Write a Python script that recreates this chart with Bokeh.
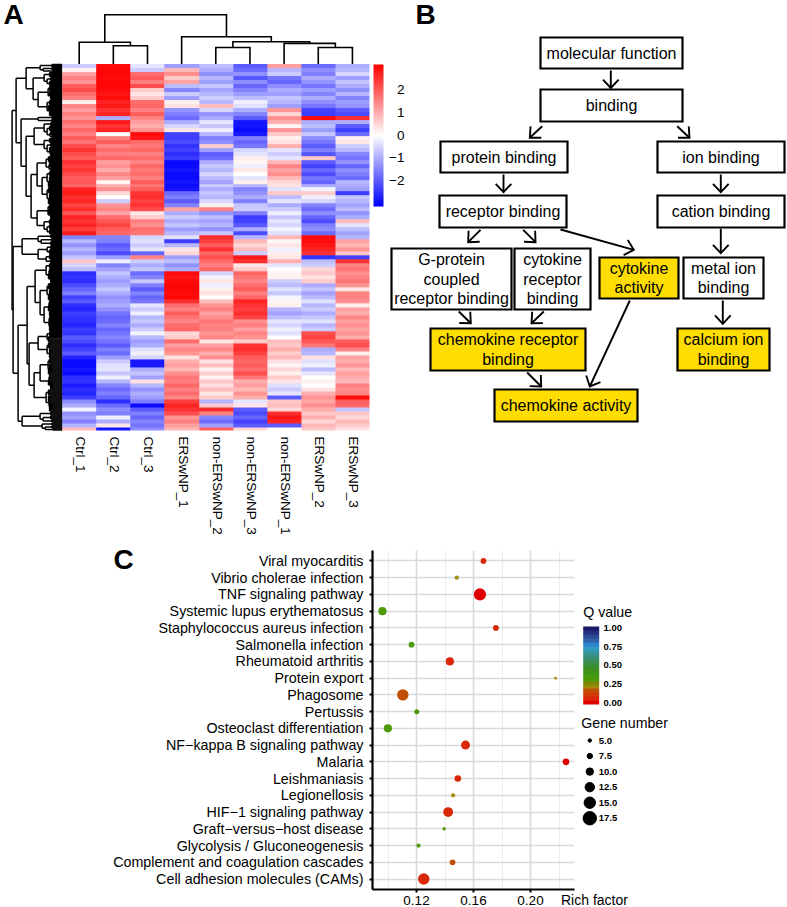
import numpy as np
from bokeh.plotting import figure
from bokeh.layouts import column, row
from bokeh.embed import file_html
from bokeh.resources import INLINE
from bokeh.core.properties import value
from bokeh.models import (ColorBar, FactorRange, FixedTicker, LinearColorMapper,
                          Range1d, ColumnDataSource)

FONT = "Liberation Sans"
W, H = 787, 907
SPLIT = 535

# ---------- A: heat map (z-scores, top row first) ----------
col_labels = ["Ctrl_1", "Ctrl_2", "Ctrl_3", "ERSwNP_1", "non-ERSwNP_2", "non-ERSwNP_3",
              "non-ERSwNP_1", "ERSwNP_2", "ERSwNP_3"]
ctrl_1 = [-0.6,0.2,1.2,1.6,1.3,2.0,2.2,1.8,1.6,0.2, 1.5,1.2,1.6,1.3,1.8,1.5,1.9,1.6,2.0,1.7,
          2.2,2.5,2.2,2.0,2.6,2.3,2.5,2.2,2.0,2.1, 1.9,2.7,2.8,2.6,2.7,2.3,2.6,2.1,2.7,2.5,
          2.7,2.4,2.8,-1.5,-0.9,-1.3,-0.9,-1.2,-0.7,0.7, -0.5,-0.8,-2.6,-2.5,-2.6,-2.2,-1.9,-1.6,-2.3,-2.0,
          -2.6,-2.7,-2.4,-2.5,-2.6,-2.7,-2.4,-2.5,-2.0,-2.2, -2.6,-2.3,-2.0,-2.7,-3.0,-3.0,-2.9,-3.0,-2.6,-2.5,
          -2.8,-2.6,-2.7,-2.4,-1.4,-1.0,-0.1,-1.3,-1.1,-1.6, -0.9,0.9]
ctrl_2 = [3.0,3.1,3.1,3.0,3.1,3.1,3.0,2.9,3.0,2.7, 2.8,2.5,2.7,-1.0,2.8,2.5,2.7,0.0,1.6,2.0,
          1.5,1.8,1.6,1.9,1.2,1.4,1.0,1.5,1.2,0.1, 1.0,1.4,0.5,0.0,-0.6,1.3,1.5,1.1,1.8,2.1,
          2.3,2.0,1.9,-1.5,-1.6,-2.0,-1.8,-2.2,-1.2,-0.2, -1.5,-1.1,-0.7,-1.0,-1.2,-1.0,-0.7,-1.0,-1.3,-1.2,
          -1.0,-1.3,-1.7,-1.9,-1.8,-1.5,-1.9,-1.7,-1.5,-1.7, -2.0,-1.6,-1.8,-1.2,-0.6,-0.4,-0.3,-0.7,-0.2,-0.9,
          -1.5,-1.8,-1.6,-1.9,-2.6,-1.8,-1.4,-1.6,-0.2,-1.0, 0.3,-2.9]
ctrl_3 = [-0.3,-0.6,1.8,2.0,1.6,2.2,0.6,0.3,0.7,1.8, 1.9,1.6,2.0,1.5,1.2,1.0,1.3,3.0,2.9,1.8,
          1.7,1.9,1.6,1.8,1.5,1.9,1.7,1.8,1.6,2.0, 1.7,2.0,2.5,2.6,2.3,2.5,2.2,0.3,0.6,1.6,
          1.4,1.8,1.7,-0.5,-0.4,-0.6,-0.3,-1.9,1.5,-0.6, -1.0,-0.7,-1.8,-1.5,-0.7,-1.6,-2.0,-1.5,-1.9,-1.7,
          -0.3,-0.6,-0.2,-0.9,-0.7,-1.0,-0.6,-0.1,-0.9,-1.2, -1.0,-0.4,-0.2,-0.5,-2.8,-2.8,-1.0,-0.7,-1.1,0.4,
          -0.9,-1.3,-1.0,-1.2,-1.6,-3.0,-2.0,-1.6,-1.9,-1.5, -1.7,-1.4]
ers_1 = [-1.2,0.9,1.4,0.6,1.1,-0.8,-1.5,-0.6,-1.2,0.2, 0.4,-1.3,-1.6,-1.8,-1.0,-0.5,0.3,-2.3,-2.4,-2.2,
         -2.5,-2.3,-2.6,-2.4,-3.0,-3.0,-2.9,-3.0,-3.0,-2.9, -3.0,-2.9,-1.8,-1.6,-2.0,-1.5,1.1,-1.0,-0.6,-1.0,
         -0.7,-1.2,-0.9,-0.4,-2.4,-0.9,0.3,0.5,-1.2,-0.8, -1.3,-1.0,3.0,2.9,3.0,3.1,3.1,3.0,3.1,2.6,
         1.8,1.5,2.0,1.7,1.5,1.8,1.9,0.5,0.6,1.8, 1.2,1.5,1.3,0.4,1.0,1.2,0.9,1.4,1.7,1.6,
         1.9,1.6,1.8,1.5,2.4,2.7,2.5,2.2,1.3,1.6, 1.2,0.9]
non_2 = [-0.8,-1.0,-1.4,-0.9,-1.2,-0.7,-1.1,-0.9,-0.6,-0.9, 0.8,-0.5,-1.3,-1.0,-0.3,-0.7,-0.2,-0.9,-1.6,-1.4,
         0.6,-1.2,-2.0,-1.8,-1.0,-0.7,-0.9,-0.5,-0.8,-1.1, -0.6,-1.0,-0.7,-0.9,-0.5,0.2,1.6,-1.3,-0.8,-1.1,
         -0.9,-1.3,-0.7,2.6,2.4,2.0,2.5,1.9,2.2,1.8, 1.6,1.9,-0.5,-0.1,0.3,-0.2,0.2,0.4,0.0,0.8,
         1.3,1.6,1.2,1.4,1.7,1.5,1.6,1.3,1.5,0.3, 1.2,1.5,1.0,1.4,0.4,0.8,0.2,0.6,0.1,0.7,
         0.4,0.8,0.3,0.6,-0.9,0.6,2.6,1.5,-1.5,-1.8, -1.2,2.0]
non_3 = [-2.0,-1.8,-1.3,-2.1,-1.4,-1.9,-1.5,-1.2,-0.8,-0.2, -0.4,-1.0,-1.5,-2.0,-2.9,-2.9,-3.0,-2.8,-1.6,-1.9,
         -1.7,-0.5,-0.3,0.2,0.1,-0.2,0.3,0.0,-0.3,0.2, -0.9,-1.5,-1.3,-1.0,-1.6,-0.7,-0.6,-1.6,-2.4,-2.3,
         -2.0,-1.0,-2.2,-0.9,0.9,0.5,0.8,-0.6,2.8,2.6, 0.3,0.6,1.9,1.7,1.5,1.8,2.0,1.6,1.9,2.7,
         2.5,2.4,2.6,2.3,1.4,1.6,1.2,1.5,1.3,0.6, 2.5,2.6,2.3,2.0,1.9,2.0,1.8,2.2,1.7,1.0,
         1.2,0.9,1.3,1.0,-0.3,0.3,-2.0,-2.2,-1.9,-2.3, -2.0,0.5]
non_1 = [1.2,-0.9,-0.6,-1.7,-1.9,-1.4,-1.0,-1.2,-0.7,-0.9, -1.2,1.3,0.5,1.4,1.0,0.1,1.3,0.6,0.2,0.4,
         1.0,-0.3,-0.6,-0.3,0.9,1.5,1.1,1.4,0.9,0.5, 0.4,-0.4,0.7,-0.8,-0.3,-1.0,-0.6,-0.2,-0.7,-0.3,
         -0.5,-0.1,-0.4,0.9,0.1,0.3,-0.2,0.2,0.3,1.0, -0.3,0.0,0.1,0.2,-0.6,-0.8,-0.4,-0.7,-0.1,0.1,
         0.2,-0.9,-1.1,-0.8,-0.3,-0.5,-0.2,-0.4,0.0,0.8, 0.7,1.0,0.6,0.9,0.4,0.1,0.5,0.2,0.6,0.3,
         -0.4,-0.6,-0.3,-2.0,0.7,0.8,0.5,2.6,2.9,2.7, -2.0,0.0]
ers_2 = [-1.8,-1.4,-1.6,-1.0,-1.3,-1.7,-1.2,-1.5,-1.0,-1.4, -1.7,-2.3,-2.4,3.0,-1.0,-0.8,-1.2,-0.7,-1.4,-1.7,
         -2.0,-1.6,-2.1,0.7,-2.0,-2.3,-1.8,-2.2,-1.7,-1.9, -1.0,-0.1,0.6,-0.2,-0.5,-1.5,-1.8,-1.4,-1.9,-2.2,
         -1.6,-1.4,-1.8,3.0,3.0,2.9,2.7,2.5,-2.5,-0.8, -0.6,0.5,0.7,0.4,0.6,-1.0,-0.7,-1.1,-0.8,-0.4,
         -0.9,-0.6,-1.0,-0.7,-0.4,-0.9,-0.6,2.2,2.3,2.1, 1.7,-1.0,-0.9,0.4,-0.4,-0.2,-0.8,-0.3,0.0,0.2,
         0.0,0.4,1.0,1.3,1.1,1.4,1.0,0.7,1.0,0.5, 0.9,0.7]
ers_3 = [-1.0,-0.9,-0.5,-1.2,-0.7,-1.0,-1.4,-0.9,-1.5,-1.2, -1.3,-2.0,-2.2,2.6,-1.0,-2.0,-2.4,-1.8,0.2,0.3,
         -0.6,-0.9,-1.5,-1.7,-1.3,-1.9,-1.4,-1.6,-1.8,-0.9, -1.0,-1.2,-2.4,-0.7,-0.9,-1.1,-0.8,-1.3,-1.0,0.8,
         -0.3,-0.8,-1.1,-0.9,1.2,0.9,1.3,0.7,-2.3,2.5, 1.5,1.7,1.4,1.6,1.7,1.3,0.3,1.5,1.6,1.4,
         0.2,1.2,1.0,1.5,1.2,1.4,1.1,1.3,1.0,2.0, 2.2,1.6,0.2,1.1,1.0,1.3,0.9,1.2,1.0,0.9,
         1.6,1.4,1.5,3.0,2.0,1.9,-0.7,0.7,0.5,0.9, 0.6,0.4]
heat_ticks = [2, 1, 0, -1, -2]
heat_tick_labels = ["2", "1", "0", "\u22121", "\u22122"]

# column dendrogram: (child, child, height); ids above 8 are earlier merges
col_merges = [(1, 2, 18.3), (0, 9, 21.7), (4, 5, 16.5), (7, 8, 16.5), (6, 12, 20.6),
              (11, 13, 22.3), (3, 14, 27.3), (10, 15, 49.3)]

# row dendrogram: (height, child, child, ...); an int is a tight run of that many leaves
def L(h, *kids):
    return (h, kids[0], L(h - 3, *kids[1:])) if len(kids) > 2 else (h, kids[0], kids[1])

row_tree = (50,
    (46,
        (36, L(22,3,3,2), (29, L(18,5,4,5), (24, L(14,5,5,4), L(15,5,6,5)))),
        (41, L(24,3,3),
            (36, (28, L(18,4,5,4,3), L(18,5,4,5,4)),
                 (31, (25, L(16,6,5,4), (20, L(15,5,5,6), L(15,6,5,6))),
                      (25, L(14,5,6,4), L(18,5,5,5)))))),
    (49,
        (40, L(24,4,3,4), (24, L(15,4,5), L(16,5,4))),
        (44,
            (35,
                (27, L(16,5,5,6,4), (22, L(15,6,5,6), (18, L(13,5,6,5), L(13,5,5,5)))),
                (33, (24, L(15,5,6), L(15,6,5,5)),
                     (28, (22, L(14,5,5,6), L(13,5,6,4)), L(16,6,6,5,5)))),
            (40, L(22,4,4,3), L(20,3,3,2)))))

# ---------- B: GO graph ----------
box_labels = [["molecular function"], ["binding"], ["protein binding"], ["ion binding"],
              ["receptor binding"], ["cation binding"],
              ["G-protein", "coupled", "receptor binding"], ["cytokine", "receptor", "binding"],
              ["cytokine", "activity"], ["metal ion", "binding"],
              ["chemokine receptor", "binding"], ["calcium ion", "binding"], ["chemokine activity"]]
box_left   = [540, 540, 440, 657, 439, 657, 391, 514, 599, 683, 430, 677, 494]
box_right  = [682, 682, 567, 784, 566, 784, 511, 590, 678, 763, 585, 769, 637]
box_top    = [37,  89,  141, 141, 195, 195, 248, 248, 257, 257, 328, 328, 389]
box_bottom = [68,  121, 172, 172, 227, 227, 309, 309, 298, 298, 370, 370, 421]
box_hit    = [0, 0, 0, 0, 0, 0, 0, 0, 1, 0, 1, 1, 1]
arrow_x0 = [610.3, 541.7, 676.7, 503.0, 720.3, 480.0, 522.7, 560.0, 720.3, 458.3, 543.3, 722.3, 629.3, 526.7]
arrow_y0 = [70.0, 125.7, 125.7, 174.0, 174.0, 229.3, 229.3, 229.0, 228.3, 311.0, 311.0, 300.0, 300.0, 372.0]
arrow_x1 = [610.3, 529.3, 689.0, 503.0, 720.3, 467.7, 535.0, 633.3, 720.3, 470.3, 531.0, 722.3, 589.3, 540.7]
arrow_y1 = [87.5, 137.3, 137.3, 191.7, 191.7, 241.7, 241.7, 249.3, 252.7, 322.7, 322.7, 323.3, 386.0, 386.0]

# ---------- C: KEGG enrichment ----------
pathways = ["Viral myocarditis", "Vibrio cholerae infection", "TNF signaling pathway",
            "Systemic lupus erythematosus", "Staphylococcus aureus infection", "Salmonella infection",
            "Rheumatoid arthritis", "Protein export", "Phagosome", "Pertussis",
            "Osteoclast differentiation", "NF\u2212kappa B signaling pathway", "Malaria", "Leishmaniasis",
            "Legionellosis", "HIF\u22121 signaling pathway", "Graft\u2212versus\u2212host disease",
            "Glycolysis / Gluconeogenesis", "Complement and coagulation cascades",
            "Cell adhesion molecules (CAMs)"]
rich_factor = [0.167, 0.1483, 0.1645, 0.0961, 0.1757, 0.1165, 0.1434, 0.2176, 0.1104, 0.1202,
               0.0999, 0.1544, 0.2249, 0.149, 0.1457, 0.1422, 0.1394, 0.1214, 0.1453, 0.1251]
q_value = [0.05, 0.22, 0.01, 0.33, 0.05, 0.32, 0.06, 0.22, 0.14, 0.30,
           0.33, 0.05, 0.01, 0.06, 0.20, 0.04, 0.30, 0.31, 0.14, 0.06]
gene_number = [8, 6, 16, 11, 8, 8, 11, 4, 15, 7, 11, 12, 9, 9, 6, 13, 5, 6, 8, 15]
q_ticks = [0.0, 0.25, 0.5, 0.75, 1.0]
gene_ticks = [5.0, 7.5, 10.0, 12.5, 15.0, 17.5]
q_palette = ["#E00000", "#D82808", "#D03A08", "#C05008", "#A08A08", "#7F8605", "#4F9A0A", "#459A12",
             "#3F8F1A", "#3C8C28", "#3A8E48", "#3A8E65", "#3A8E85", "#3498A8", "#2F9ACC", "#2C82C8",
             "#2F60A8", "#2E4A95", "#262F7E", "#1A1A66"]


def gene_size(g):
    return -0.6 + 0.8 * np.asarray(g, dtype=float)


def labels(p, x, y, text, size, **kw):
    src = ColumnDataSource(dict(x=x, y=y, t=text))
    return p.text(x="x", y="y", text="t", source=src, text_font=value(FONT),
                  text_font_size=size, text_color="black", **kw)


def bare(p):
    p.xaxis.visible = False
    p.yaxis.visible = False
    p.grid.visible = False
    p.outline_line_color = None
    p.min_border = 0
    p.frame_align = False


# ---------- top figure (panels A and B, one data unit = one page pixel) ----------
top = figure(width=W, height=SPLIT, output_backend="svg", toolbar_location=None,
             x_range=Range1d(0, W), y_range=Range1d(SPLIT, 0))
bare(top)

HX0, HX1, HY0, HY1 = 61.6, 369.0, 63.5, 430.0
heat = np.array([ctrl_1, ctrl_2, ctrl_3, ers_1, non_2, non_3, non_1, ers_2, ers_3]).T
blue_white_red = (["#%02x%02xff" % (i * 255 // 50, i * 255 // 50) for i in range(50)] + ["#ffffff"] +
                  ["#ff%02x%02x" % (255 - i * 255 // 50, 255 - i * 255 // 50) for i in range(1, 51)])
heat_map = LinearColorMapper(palette=blue_white_red, low=-3.17, high=3.17)
top.image(image=[heat], x=HX0, y=HY0, dw=HX1 - HX0, dh=HY1 - HY0, color_mapper=heat_map)

cell = (HX1 - HX0) / len(col_labels)
centres = [HX0 + cell * (i + 0.5) for i in range(len(col_labels))]

# column dendrogram
pos = {i: (centres[i], 0.0) for i in range(len(col_labels))}
xs, ys = [], []
for k, (a, b, h) in enumerate(col_merges):
    xa, ha = pos[a]
    xb, hb = pos[b]
    xs.append([xa, xa, xb, xb])
    ys.append([HY0 - ha, HY0 - h, HY0 - h, HY0 - hb])
    pos[len(col_labels) + k] = ((xa + xb) / 2, h)
top.multi_line(xs, ys, line_color="black", line_width=1.6, line_join="miter")

# row dendrogram
rx, ry = [], []
pitch = (HY1 - HY0) / 366
cursor = [0]


def walk(node):
    if isinstance(node, int):
        start = HY0 + (cursor[0] + 0.5) * pitch
        h = 7 + 1.1 * node
        for i in range(node):
            y = start + i * pitch
            rx.append([HX0, HX0 - h])
            ry.append([y, y])
        cursor[0] += node
        end = start + (node - 1) * pitch
        rx.append([HX0 - h, HX0 - h])
        ry.append([start, end])
        return (start + end) / 2, h
    h = node[0]
    parts = [walk(c) for c in node[1:]]
    for y, ch in parts:
        rx.append([HX0 - ch, HX0 - h])
        ry.append([y, y])
    rx.append([HX0 - h, HX0 - h])
    ry.append([parts[0][0], parts[-1][0]])
    return (parts[0][0] + parts[-1][0]) / 2, h


walk(row_tree)
top.multi_line(rx, ry, line_color="black", line_width=1.5)

# column labels
labels(top, [c + 1.5 for c in centres], [436.0] * len(col_labels), col_labels, "13.5px",
       angle=-np.pi / 2, text_align="left", text_baseline="middle")

# heat colour bar
CB_Y0, CB_Y1 = 63.5, 206.0
bar = ColorBar(color_mapper=heat_map, width=10, height=int(CB_Y1 - CB_Y0), padding=0, margin=0,
               location=(373, SPLIT - CB_Y1), ticker=FixedTicker(ticks=[]),
               major_tick_line_color=None, bar_line_color=None, border_line_color=None,
               background_fill_color=None)
top.add_layout(bar, "center")
cb_mid = (CB_Y0 + CB_Y1) / 2
labels(top, [404.0] * 5, [cb_mid - t * 22.7 for t in heat_ticks], heat_tick_labels, "13.5px",
       text_align="right", text_baseline="middle")

# flow chart
fills = ["#FFDD00" if h else "white" for h in box_hit]
top.quad(left=box_left, right=box_right, top=box_top, bottom=box_bottom, fill_color=fills,
         line_color="black", line_width=2.2, line_join="miter")
tx, ty, tt = [], [], []
for lines, l, r, t, b in zip(box_labels, box_left, box_right, box_top, box_bottom):
    mid = (t + b) / 2
    for i, line in enumerate(lines):
        tx.append((l + r) / 2)
        ty.append(mid + (i - (len(lines) - 1) / 2) * 19.2)
        tt.append(line)
labels(top, tx, ty, tt, "16px", text_align="center", text_baseline="middle")

ax, ay = [], []
for x0, y0, x1, y1 in zip(arrow_x0, arrow_y0, arrow_x1, arrow_y1):
    ang = np.arctan2(y0 - y1, x0 - x1)
    ax.append([x0, x1])
    ay.append([y0, y1])
    ax.append([x1 + 11.5 * np.cos(ang + 0.75), x1, x1 + 11.5 * np.cos(ang - 0.75)])
    ay.append([y1 + 11.5 * np.sin(ang + 0.75), y1, y1 + 11.5 * np.sin(ang - 0.75)])
top.multi_line(ax, ay, line_color="black", line_width=1.9, line_join="miter")

# panel letters
labels(top, [3.0, 415.0], [14.0, 13.5], ["A", "B"], "28px", text_align="left",
       text_baseline="middle", text_font_style="bold")

# ---------- bottom figure (panel C) ----------
PX0, PX1 = 372.0, 574.0
PTOP, PBOT = 550.5, 888.3
UNIT = 1425.0
DOT_W = 580
x_lo = 0.12 + (PX0 - 416.0) / UNIT
x_hi = 0.12 + (PX1 - 416.0) / UNIT
y_pad = ((PBOT - PTOP) / 16.68 - len(pathways)) / 2
dot = figure(width=DOT_W, height=H - SPLIT, output_backend="svg", toolbar_location=None,
             x_range=Range1d(x_lo, x_hi),
             y_range=FactorRange(factors=pathways[::-1], range_padding=y_pad,
                                 range_padding_units="absolute"))
dot.outline_line_color = None
dot.frame_align = False
dot.min_border_left = int(PX0)
dot.min_border_right = DOT_W - int(PX1)
dot.min_border_top = int(PTOP - SPLIT)
dot.min_border_bottom = int(H - PBOT)

dot.scatter(x=rich_factor, y=pathways, size=gene_size(gene_number).tolist(),
            fill_color=[q_palette[min(int((q + 0.02) / 1.04 * len(q_palette)), len(q_palette) - 1)] for q in q_value],
            line_color=None)

for ax_ in (dot.xaxis[0], dot.yaxis[0]):
    ax_.axis_line_color = "black"
    ax_.axis_line_width = 2.2
    ax_.major_tick_line_color = "black"
    ax_.major_tick_line_width = 2
    ax_.major_tick_out = 3
    ax_.major_tick_in = 0
    ax_.minor_tick_line_color = None
    ax_.major_label_text_font = FONT
    ax_.major_label_text_color = "black"
dot.xaxis[0].ticker = FixedTicker(ticks=[0.12, 0.16, 0.20], minor_ticks=[0.10, 0.14, 0.18, 0.22])
dot.xaxis[0].major_label_overrides = {0.12: "0.12", 0.16: "0.16", 0.20: "0.20"}
dot.xaxis[0].major_label_text_font_size = "13.5px"
dot.xaxis[0].major_label_standoff = 2
dot.yaxis[0].major_label_text_font_size = "14.3px"
dot.yaxis[0].major_label_standoff = 6
dot.xgrid.grid_line_color = "#D9D9D9"
dot.xgrid.grid_line_width = 1.6
dot.xgrid.minor_grid_line_color = "#EDEDED"
dot.xgrid.minor_grid_line_width = 1.2
dot.ygrid.grid_line_color = "#D9D9D9"
dot.ygrid.grid_line_width = 1.5

# ---------- transparent overlay over panel C: letter, x-axis title and legends ----------
leg = figure(width=W, height=H - SPLIT, output_backend="svg", toolbar_location=None,
             x_range=Range1d(0, W), y_range=Range1d(H, SPLIT),
             margin=(0, 0, 0, -DOT_W), background_fill_color=None, border_fill_color=None)
bare(leg)

labels(leg, [113.0], [559.0], ["C"], "28px", text_align="left", text_baseline="middle",
       text_font_style="bold")
labels(leg, [560.5], [899.0], ["Rich factor"], "14px", text_align="left", text_baseline="middle")

q_map = LinearColorMapper(palette=q_palette, low=-0.02, high=1.02)
QX0, QX1, QY0, QY1 = 582.7, 598.7, 625.7, 704.0
qbar = ColorBar(color_mapper=q_map, width=int(QX1 - QX0), height=int(QY1 - QY0), padding=0, margin=0,
                location=(QX0, H - QY1), ticker=FixedTicker(ticks=[]),
                major_tick_line_color=None, bar_line_color=None, border_line_color=None,
                background_fill_color=None)
leg.add_layout(qbar, "center")
labels(leg, [603.0] * len(q_ticks), [702.3 - 75 * q for q in q_ticks], ["%.2f" % q for q in q_ticks],
       "9.5px", text_align="left", text_baseline="middle", text_font_style="bold")
labels(leg, [582.7, 580.7], [611.0, 722.7], ["Q value", "Gene number"], "14.2px",
       text_align="left", text_baseline="middle")
gy = [740.0 + 15.55 * i for i in range(len(gene_ticks))]
leg.scatter(x=[589.3] * len(gene_ticks), y=gy, size=gene_size(gene_ticks).tolist(), color="black")
labels(leg, [598.3] * len(gene_ticks), gy, ["%.1f" % g for g in gene_ticks], "9.5px",
       text_align="left", text_baseline="middle", text_font_style="bold")

page = column(top, row(dot, leg, spacing=0), spacing=0)
open("out.html", "w").write(file_html(page, INLINE))
